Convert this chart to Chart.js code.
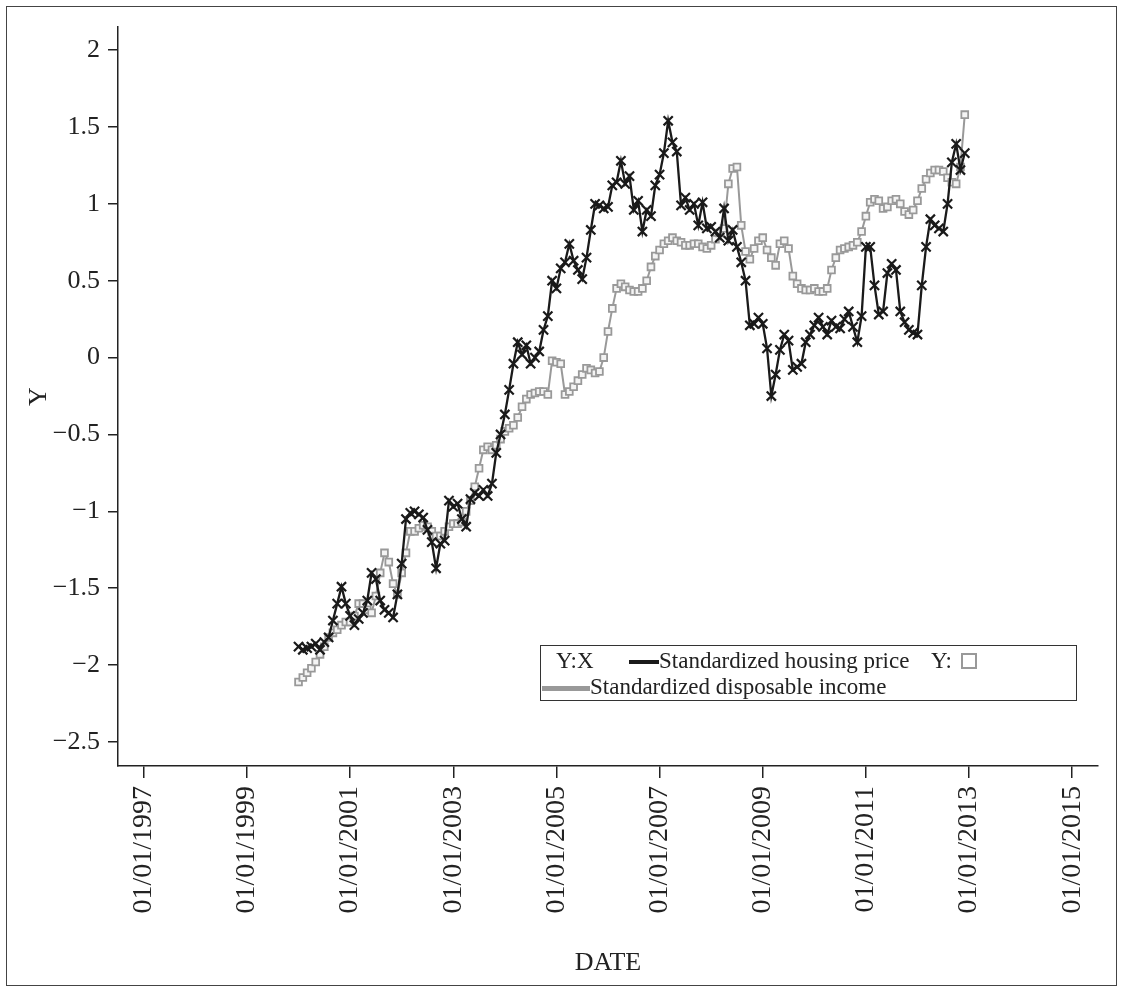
<!DOCTYPE html>
<html>
<head>
<meta charset="utf-8">
<title>Standardized housing price and disposable income</title>
<script src="https://cdn.jsdelivr.net/npm/chart.js@4.4.0/dist/chart.umd.min.js"></script>
<style>
  body { margin: 0; background: #fff; }
  #wrap { position: relative; width: 1123px; height: 992px; }
  #frame { position: absolute; left: 6px; top: 6px; width: 1111px; height: 980px; border: 1.5px solid #444; box-sizing: border-box; }
  #legend { position: absolute; left: 540px; top: 645px; width: 537px; height: 56px; border: 1.2px solid #333; box-sizing: border-box; font: 23px "Liberation Serif", serif; color: #222; }
  #legend span { position: absolute; white-space: nowrap; line-height: 26px; }
</style>
</head>
<body>
<div id="wrap">
  <canvas id="myChart" width="1123" height="992"></canvas>
  <div id="frame"></div>
  <div id="legend">
    <span style="left:15px;top:2px">Y:X</span>
    <span style="left:88px;top:14px;width:30px;height:4px;background:#1a1a1a"></span>
    <span style="left:118px;top:2px">Standardized housing price</span>
    <span style="left:390px;top:2px">Y:</span>
    <span style="left:420px;top:7px;width:16px;height:16px;border:2px solid #999;box-sizing:border-box"></span>
    <span style="left:1px;top:40px;width:48px;height:5px;background:#999"></span>
    <span style="left:49px;top:28px">Standardized disposable income</span>
  </div>
</div>
<script>
// monthly series, Jan 2000 .. Dec 2012
var startYear = 2000;

var housingPrice = [
  -1.88, -1.90, -1.89, -1.88, -1.86, -1.90, -1.85, -1.82, -1.71, -1.60, -1.49, -1.60,
  -1.68, -1.74, -1.70, -1.66, -1.58, -1.40, -1.44, -1.58, -1.64, -1.66, -1.69, -1.54,
  -1.34, -1.05, -1.01, -1.00, -1.02, -1.04, -1.12, -1.20, -1.37, -1.21, -1.19, -0.93,
  -0.97, -0.95, -1.05, -1.10, -0.92, -0.88, -0.90, -0.86, -0.90, -0.82, -0.62, -0.50,
  -0.37, -0.21, -0.04, 0.10, 0.02, 0.08, -0.04, 0.00, 0.04, 0.18, 0.27, 0.50,
  0.45, 0.58, 0.62, 0.74, 0.63, 0.57, 0.51, 0.65, 0.83, 1.00, 0.99, 0.97,
  0.98, 1.12, 1.14, 1.28, 1.13, 1.18, 0.96, 1.02, 0.82, 0.96, 0.92, 1.12,
  1.19, 1.33, 1.54, 1.40, 1.34, 0.99, 1.04, 0.96, 1.00, 0.86, 1.01, 0.84,
  0.85, 0.82, 0.78, 0.97, 0.76, 0.83, 0.72, 0.62, 0.50, 0.21, 0.22, 0.26,
  0.22, 0.06, -0.25, -0.11, 0.05, 0.15, 0.11, -0.08, -0.06, -0.04, 0.10, 0.15,
  0.21, 0.26, 0.20, 0.15, 0.24, 0.20, 0.19, 0.25, 0.30, 0.20, 0.10, 0.27,
  0.72, 0.72, 0.47, 0.28, 0.30, 0.55, 0.61, 0.57, 0.30, 0.23, 0.18, 0.16,
  0.15, 0.47, 0.72, 0.90, 0.86, 0.84, 0.82, 1.00, 1.27, 1.39, 1.22, 1.33
];

var disposableIncome = [
  -2.11, -2.08, -2.05, -2.02, -1.98, -1.93, -1.88, -1.82, -1.79, -1.77, -1.74, -1.72,
  -1.72, -1.68, -1.60, -1.60, -1.64, -1.66, -1.55, -1.40, -1.27, -1.33, -1.47, -1.54,
  -1.40, -1.27, -1.13, -1.13, -1.11, -1.09, -1.10, -1.13, -1.16, -1.16, -1.13, -1.10,
  -1.08, -1.08, -1.07, -1.00, -0.93, -0.84, -0.72, -0.60, -0.58, -0.60, -0.57, -0.53,
  -0.48, -0.46, -0.44, -0.39, -0.32, -0.27, -0.24, -0.23, -0.22, -0.22, -0.24, -0.02,
  -0.03, -0.04, -0.24, -0.22, -0.19, -0.15, -0.11, -0.07, -0.08, -0.10, -0.09, 0.00,
  0.17, 0.32, 0.45, 0.48, 0.46, 0.44, 0.43, 0.43, 0.45, 0.50, 0.59, 0.66,
  0.70, 0.74, 0.76, 0.78, 0.76, 0.75, 0.73, 0.73, 0.74, 0.74, 0.72, 0.71,
  0.73, 0.77, 0.81, 0.84, 1.13, 1.23, 1.24, 0.86, 0.69, 0.64, 0.71, 0.76,
  0.78, 0.70, 0.65, 0.60, 0.74, 0.76, 0.71, 0.53, 0.48, 0.45, 0.44, 0.44,
  0.45, 0.43, 0.43, 0.45, 0.57, 0.65, 0.70, 0.71, 0.72, 0.73, 0.75, 0.82,
  0.92, 1.01, 1.03, 1.02, 0.97, 0.98, 1.02, 1.03, 1.00, 0.95, 0.93, 0.96,
  1.02, 1.10, 1.16, 1.20, 1.22, 1.22, 1.21, 1.17, 1.14, 1.13, 1.24, 1.58
];

var dateTicks = [1997, 1999, 2001, 2003, 2005, 2007, 2009, 2011, 2013, 2015];
var yTicks = [-2.5, -2, -1.5, -1, -0.5, 0, 0.5, 1, 1.5, 2];

function toPoints(values) {
  return values.map(function (v, i) {
    return { x: startYear + i / 12, y: v };
  });
}

var ink = "#222";
var serif = "'Liberation Serif', serif";

new Chart("myChart", {
  type: "line",
  data: {
    datasets: [{
      label: "Standardized housing price",
      data: toPoints(housingPrice),
      borderColor: "#1a1a1a",
      borderWidth: 2.3,
      pointStyle: "crossRot",
      pointRadius: 6.5,
      pointBorderWidth: 2.2,
      pointBorderColor: "#1a1a1a",
      tension: 0,
      order: 0
    }, {
      label: "Standardized disposable income",
      data: toPoints(disposableIncome),
      borderColor: "#999",
      borderWidth: 2,
      pointStyle: "rect",
      pointRadius: 4.8,
      pointBorderWidth: 1.8,
      pointBorderColor: "#999",
      pointBackgroundColor: "#f4f4f4",
      tension: 0,
      order: 1
    }]
  },
  options: {
    responsive: false,
    animation: false,
    devicePixelRatio: 1,
    layout: { padding: { top: 27, right: 25, left: 0, bottom: 0 } },
    plugins: {
      legend: { display: false },
      tooltip: { enabled: false }
    },
    scales: {
      x: {
        type: "linear",
        min: 1996.5,
        max: 2015.5,
        afterBuildTicks: function (s) {
          s.ticks = dateTicks.map(function (v) { return { value: v }; });
        },
        afterFit: function (s) { s.height = 226; },
        ticks: {
          callback: function (v) { return "01/01/" + v; },
          minRotation: 90,
          maxRotation: 90,
          autoSkip: false,
          padding: 8,
          color: ink,
          font: { family: serif, size: 28 }
        },
        grid: { drawOnChartArea: false, drawTicks: true, tickLength: 12, color: ink, lineWidth: 1.5 },
        border: { display: true, color: ink, width: 1.5 },
        title: {
          display: true,
          text: "DATE",
          color: ink,
          font: { family: serif, size: 26 },
          padding: { top: 0, bottom: 13 }
        }
      },
      y: {
        min: -2.656,
        max: 2.15,
        afterBuildTicks: function (s) {
          s.ticks = yTicks.map(function (v) { return { value: v }; });
        },
        afterFit: function (s) { s.width = 118; },
        ticks: {
          callback: function (v) { return (v < 0 ? "\u2212" : "") + Math.abs(v); },
          padding: 8,
          color: ink,
          font: { family: serif, size: 26 }
        },
        grid: { drawOnChartArea: false, drawTicks: true, tickLength: 10, color: ink, lineWidth: 1.5 },
        border: { display: true, color: ink, width: 1.5 },
        title: {
          display: true,
          text: "Y",
          color: ink,
          font: { family: serif, size: 26 },
          padding: { top: 24, bottom: 0 }
        }
      }
    }
  }
});
</script>
</body>
</html>
